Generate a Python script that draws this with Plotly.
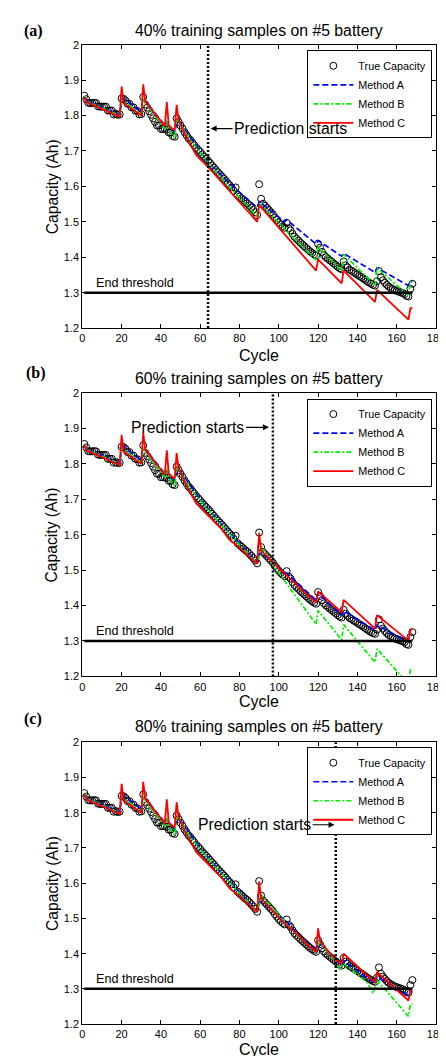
import plotly.graph_objects as go

# ---------------- data ----------------
cycles = list(range(1, 169))
true_capacity = [
    1.856, 1.846, 1.836, 1.835, 1.835, 1.836, 1.835, 1.826, 1.825, 1.825,
    1.825, 1.825, 1.814, 1.814, 1.814, 1.803, 1.805, 1.802, 1.803, 1.848,
    1.847, 1.842, 1.833, 1.833, 1.823, 1.823, 1.814, 1.813, 1.803, 1.804,
    1.852, 1.831, 1.822, 1.812, 1.802, 1.792, 1.782, 1.772, 1.772, 1.762,
    1.762, 1.762, 1.760, 1.752, 1.752, 1.742, 1.740, 1.792, 1.782, 1.772,
    1.763, 1.753, 1.745, 1.736, 1.731, 1.723, 1.716, 1.709, 1.703, 1.697,
    1.690, 1.684, 1.678, 1.672, 1.666, 1.659, 1.653, 1.646, 1.640, 1.634,
    1.628, 1.622, 1.616, 1.609, 1.603, 1.597, 1.588, 1.597, 1.576, 1.571,
    1.566, 1.561, 1.556, 1.552, 1.546, 1.540, 1.534, 1.527, 1.519, 1.606,
    1.565, 1.551, 1.545, 1.539, 1.533, 1.527, 1.521, 1.512, 1.505, 1.498,
    1.492, 1.487, 1.483, 1.497, 1.482, 1.476, 1.466, 1.458, 1.452, 1.447,
    1.441, 1.436, 1.431, 1.426, 1.421, 1.416, 1.412, 1.408, 1.405, 1.438,
    1.427, 1.415, 1.406, 1.400, 1.396, 1.391, 1.387, 1.382, 1.378, 1.373,
    1.369, 1.366, 1.388, 1.377, 1.371, 1.365, 1.362, 1.358, 1.355, 1.351,
    1.347, 1.344, 1.340, 1.336, 1.332, 1.328, 1.325, 1.322, 1.320, 1.332,
    1.361, 1.343, 1.335, 1.328, 1.322, 1.317, 1.313, 1.310, 1.307, 1.305,
    1.303, 1.301, 1.299, 1.296, 1.291, 1.289, 1.311, 1.325,
]

# training-phase fits (shared by all panels, cut at the prediction start)
fitA_x = [1, 2, 19, 20, 21, 30, 31, 32, 42, 43, 47, 48, 49, 55, 60, 70, 78, 80, 89, 90, 91, 97, 103, 104, 110, 119, 120, 121]
fitA_y = [1.852, 1.842, 1.802, 1.838, 1.848, 1.810, 1.840, 1.842, 1.772, 1.778, 1.752, 1.775, 1.785, 1.737, 1.700,
          1.634, 1.588, 1.575, 1.522, 1.545, 1.548, 1.522, 1.495, 1.492, 1.452, 1.410, 1.422, 1.428]
fitB_x = [1, 2, 19, 20, 21, 30, 31, 32, 42, 43, 44, 46, 47, 48, 49, 55, 60, 70, 80, 89, 90, 91, 92, 103, 104, 110, 119, 120, 121]
fitB_y = [1.854, 1.840, 1.800, 1.845, 1.842, 1.803, 1.848, 1.835, 1.762, 1.785, 1.765, 1.742, 1.738, 1.785, 1.785,
          1.730, 1.697, 1.632, 1.571, 1.520, 1.535, 1.568, 1.560, 1.490, 1.485, 1.448, 1.405, 1.425, 1.432]
fitC_x = [1, 2, 19, 20, 21, 30, 31, 32, 42, 43, 44, 47, 48, 49, 52, 58, 71, 75, 80, 89, 90, 91, 100, 110, 119, 120, 121]
fitC_y = [1.852, 1.838, 1.797, 1.882, 1.835, 1.800, 1.888, 1.840, 1.770, 1.838, 1.772, 1.758, 1.830, 1.787, 1.750,
          1.688, 1.615, 1.585, 1.563, 1.518, 1.605, 1.556, 1.503, 1.452, 1.404, 1.472, 1.436]

# prediction-phase curves, per panel
pred_start = [64, 97, 129]
titles = ["40% training samples on #5 battery",
          "60% training samples on #5 battery",
          "80% training samples on #5 battery"]
panel_labels = ["(a)", "(b)", "(c)"]

predA_x = [[64, 77, 89, 90, 103, 104, 119, 120, 132, 133, 149, 150, 166, 167, 168],
           [97, 103, 104, 119, 120, 132, 133, 149, 150, 166, 167, 168],
           [129, 132, 133, 149, 150, 166, 167, 168]]
predA_y = [[1.668, 1.598, 1.540, 1.557, 1.500, 1.506, 1.437, 1.447, 1.403, 1.411, 1.357, 1.370, 1.320, 1.331, 1.331],
           [1.522, 1.490, 1.492, 1.415, 1.435, 1.372, 1.385, 1.330, 1.345, 1.297, 1.303, 1.303],
           [1.381, 1.366, 1.380, 1.315, 1.335, 1.282, 1.292, 1.292]]
predB_x = [[64, 70, 80, 89, 90, 119, 120, 132, 133, 149, 150, 166, 167, 168],
           [97, 119, 120, 132, 133, 149, 150, 166, 167, 168],
           [129, 131, 133, 145, 148, 150, 166, 167, 168]]
predB_y = [[1.668, 1.628, 1.570, 1.515, 1.552, 1.392, 1.430, 1.362, 1.408, 1.322, 1.370, 1.292, 1.332, 1.332],
           [1.515, 1.347, 1.386, 1.303, 1.346, 1.240, 1.278, 1.178, 1.220, 1.220],
           [1.376, 1.357, 1.372, 1.318, 1.288, 1.325, 1.222, 1.256, 1.256]]
predC_x = [[64, 89, 90, 119, 120, 132, 133, 149, 150, 166, 167, 168],
           [97, 119, 120, 132, 133, 149, 150, 166, 167, 168],
           [129, 132, 133, 149, 150, 166, 167, 168]]
predC_y = [[1.655, 1.500, 1.548, 1.362, 1.394, 1.326, 1.362, 1.274, 1.308, 1.224, 1.256, 1.256],
           [1.521, 1.408, 1.440, 1.381, 1.416, 1.335, 1.373, 1.301, 1.332, 1.332],
           [1.381, 1.372, 1.400, 1.318, 1.348, 1.267, 1.296, 1.296]]

end_threshold = 1.3
x_ticks = [0, 20, 40, 60, 80, 100, 120, 140, 160, 180]
y_ticks = [1.2, 1.3, 1.4, 1.5, 1.6, 1.7, 1.8, 1.9, 2.0]
y_ticklabels = ["1.2", "1.3", "1.4", "1.5", "1.6", "1.7", "1.8", "1.9", "2"]

# "Prediction starts" label height per panel, arrow tip offset and side
arrow_y = [1.763, 1.903, 1.766]
arrow_tip = [1.3, -2.0, -0.6]
arrow_ax = [80, -81, -80]

# ---------------- layout geometry (pixels) ----------------
W, H = 446, 1056
ax_left, ax_right = 73.3, 436.7
ax_tops = [31.0, 383.3, 736.7]
ax_bots = [317.7, 670.0, 1021.7]
title_y = [17.0, 369.0, 720.7]
xlabel_y = [345.0, 695.0, 1047.5]
label_pos = [(23, 17), (26, 363), (23, 712.7)]
legend_top = [36.7, 389.0, 741.7]
legend_right = 433.0

FONT = "Liberation Sans, Arial, sans-serif"


def px(xp):
    return xp / W


def py(yp):
    return 1 - yp / H


fig = go.Figure()
annotations = []
shapes = []
layout = {}

for i in range(3):
    s = pred_start[i]
    xa = "x" if i == 0 else f"x{i+1}"
    ya = "y" if i == 0 else f"y{i+1}"
    leg = "legend" if i == 0 else f"legend{i+1}"

    fig.add_trace(go.Scatter(
        x=cycles, y=true_capacity, mode="markers", name="True Capacity",
        marker=dict(symbol="circle-open", size=7, color="black", line=dict(width=1, color="black")),
        xaxis=xa, yaxis=ya, legend=leg))

    for name, fx, fy, pxs, pys, color, dash, w in [
        ("Method A", fitA_x, fitA_y, predA_x[i], predA_y[i], "#0000FF", "6px,3px", 1.7),
        ("Method B", fitB_x, fitB_y, predB_x[i], predB_y[i], "#00F000", "5px,2px,2px,2px", 1.7),
        ("Method C", fitC_x, fitC_y, predC_x[i], predC_y[i], "#FF0000", "solid", 1.8),
    ]:
        tx = [a for a in fx if a < s]
        ty = [b for a, b in zip(fx, fy) if a < s]
        fig.add_trace(go.Scatter(
            x=tx + pxs, y=ty + pys, mode="lines", name=name,
            line=dict(color=color, dash=dash, width=w),
            xaxis=xa, yaxis=ya, legend=leg))

    dom_x = [px(ax_left), px(ax_right)]
    dom_y = [py(ax_bots[i]), py(ax_tops[i])]
    common = dict(showgrid=False, zeroline=False, showline=True, linecolor="black", linewidth=1,
                  mirror="ticks", ticks="inside", ticklen=4, tickcolor="black",
                  tickfont=dict(family=FONT, size=11, color="black"))
    layout["xaxis" if i == 0 else f"xaxis{i+1}"] = dict(
        domain=dom_x, range=[0, 180], tickvals=x_ticks, anchor=ya, **common)
    layout["yaxis" if i == 0 else f"yaxis{i+1}"] = dict(
        domain=dom_y, range=[1.2, 2.0], tickvals=y_ticks, ticktext=y_ticklabels, anchor=xa, **common)

    layout[leg] = dict(
        x=px(legend_right), xanchor="right", y=py(legend_top[i]), yanchor="top",
        bgcolor="white", bordercolor="black", borderwidth=1,
        font=dict(family=FONT, size=10.8, color="black"), itemwidth=40,
        tracegroupgap=0)

    # threshold line
    shapes.append(dict(type="line", xref=xa, yref=ya, x0=1, x1=168, y0=end_threshold, y1=end_threshold,
                       line=dict(color="black", width=2.5)))
    # prediction start dotted line
    shapes.append(dict(type="line", xref=xa, yref=f"{ya} domain", x0=s, x1=s, y0=0, y1=1,
                       line=dict(color="black", width=2.5, dash="2px,2px")))

    cx = (ax_left + ax_right) / 2
    annotations.append(dict(text=titles[i], x=px(cx), y=py(title_y[i]), xref="paper", yref="paper",
                            showarrow=False, xanchor="center", yanchor="middle",
                            font=dict(family=FONT, size=15.8, color="black")))
    annotations.append(dict(text="Cycle", x=px(cx), y=py(xlabel_y[i]), xref="paper", yref="paper",
                            showarrow=False, xanchor="center", yanchor="middle",
                            font=dict(family=FONT, size=16, color="black")))
    annotations.append(dict(text="Capacity (Ah)", x=px(42), y=py((ax_tops[i] + ax_bots[i]) / 2),
                            xref="paper", yref="paper", showarrow=False, textangle=-90,
                            xanchor="center", yanchor="middle",
                            font=dict(family=FONT, size=15.7, color="black")))
    lx, ly = label_pos[i]
    annotations.append(dict(text="<b>" + panel_labels[i] + "</b>", x=px(lx), y=py(ly), xref="paper", yref="paper",
                            showarrow=False, xanchor="center", yanchor="middle",
                            font=dict(family="Liberation Serif, Times New Roman, serif", size=16, color="black")))
    annotations.append(dict(text="End threshold", x=6, y=end_threshold + 0.002, xref=xa, yref=ya,
                            showarrow=False, xanchor="left", yanchor="bottom",
                            font=dict(family=FONT, size=12.6, color="black")))
    annotations.append(dict(text="Prediction starts", x=s + arrow_tip[i], y=arrow_y[i],
                            xref=xa, yref=ya, showarrow=True, ax=arrow_ax[i], ay=0,
                            arrowhead=2, arrowsize=1, arrowwidth=1.2, arrowcolor="black",
                            font=dict(family=FONT, size=15.8, color="black")))

fig.update_layout(
    width=W, height=H, margin=dict(l=0, r=0, t=0, b=0),
    paper_bgcolor="white", plot_bgcolor="white",
    annotations=annotations, shapes=shapes, **layout)

fig.write_html("out.html")
